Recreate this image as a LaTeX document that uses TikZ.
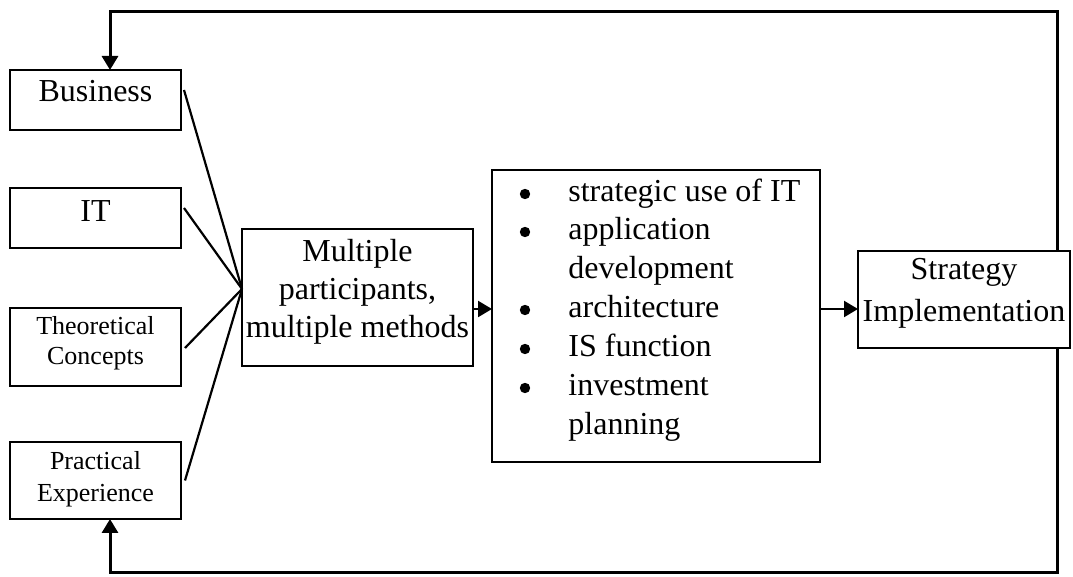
\documentclass[tikz,border=0pt]{standalone}
\usepackage{fontspec}
\setmainfont{Liberation Serif}
\usetikzlibrary{arrows.meta}
\begin{document}
\begin{tikzpicture}[x=0.5pt,y=-0.5pt,
  box/.style={draw,line width=1.1pt,inner sep=0pt,outer sep=0pt},
  big/.style={font=\fontsize{16}{19}\selectfont,inner sep=0pt,anchor=base},
  small/.style={font=\fontsize{13}{15}\selectfont,inner sep=0pt,anchor=base},
  dot/.style={circle,fill,inner sep=0pt,minimum size=5.2pt},
  link/.style={line width=1.1pt},
  arr/.style={-{Triangle[length=7pt,width=8pt]}},
  loopline/.style={line width=1.5pt,line join=miter}]
\useasboundingbox (0,0) rectangle (1073,577);

% input boxes on the left
\node[box,minimum width=85.5pt,minimum height=30pt] (bus) at (95.5,100) {};
\node[big] (bustxt) at (95.5,102) {Business};
\node[box,minimum width=85.5pt,minimum height=30pt] (it) at (95.5,218) {};
\node[big] (ittxt) at (95.5,222) {IT};
\node[box,minimum width=85.5pt,minimum height=39pt] (theo) at (95.5,347) {};
\node[small] (theotxt1) at (95.5,335) {Theoretical};
\node[small] (theotxt2) at (95.5,365) {Concepts};
\node[box,minimum width=85.5pt,minimum height=38.5pt] (prac) at (95.5,480.5) {};
\node[small] (practxt1) at (95.5,470) {Practical};
\node[small] (practxt2) at (95.5,502) {Experience};

% method box
\node[box,minimum width=115.5pt,minimum height=68.5pt] (multi) at (357.5,297.5) {};
\node[big] (multitxt1) at (357.5,262) {Multiple};
\node[big] (multitxt2) at (357.5,300) {participants,};
\node[big] (multitxt3) at (357.5,338) {multiple methods};

% topics box with bulleted items
\node[box,minimum width=164pt,minimum height=146pt] (list) at (656,316) {};
\foreach \yy/\bul/\txt [count=\i] in {202/1/strategic use of IT,240/1/application,279/0/development,318/1/architecture,357/1/IS function,396/1/investment,435/0/planning}{
  \node[big,anchor=base west] (item\i) at (568,\yy) {\txt};
  \ifnum\bul=1 \node[dot] (bullet\i) at (525,\yy-8) {}; \fi
}

% outcome box
\node[box,minimum width=106pt,minimum height=48.5pt] (strat) at (964,299.5) {};
\node[big] (strattxt1) at (964,280) {Strategy};
\node[big] (strattxt2) at (964,322) {Implementation};

% inputs converging on the method box
\coordinate (hub) at ([yshift=4.25pt]multi.west);
\draw[link] ([shift={(3,-10)}]bus.east) -- (hub);
\draw[link] ([shift={(3,-10)}]it.east) -- (hub);
\draw[link] ([shift={(4,1)}]theo.east) -- (hub);
\draw[link] ([shift={(4,0)}]prac.east) -- (hub);

% forward flow
\coordinate (row) at (0,309);
\draw[link,arr] (multi.east |- row) -- (list.west |- row);
\draw[link,arr] (list.east |- row) -- (strat.west |- row);

% feedback loop
\coordinate (ne) at (1057,12);
\coordinate (nw) at (110,12);
\coordinate (se) at (1057,573);
\coordinate (sw) at (110,573);
\draw[loopline,arr] (strat.north -| ne) -- (ne) -- (nw) -- (bus.north -| nw);
\draw[loopline,arr] (strat.south -| se) -- (se) -- (sw) -- (prac.south -| sw);
\end{tikzpicture}
\end{document}
